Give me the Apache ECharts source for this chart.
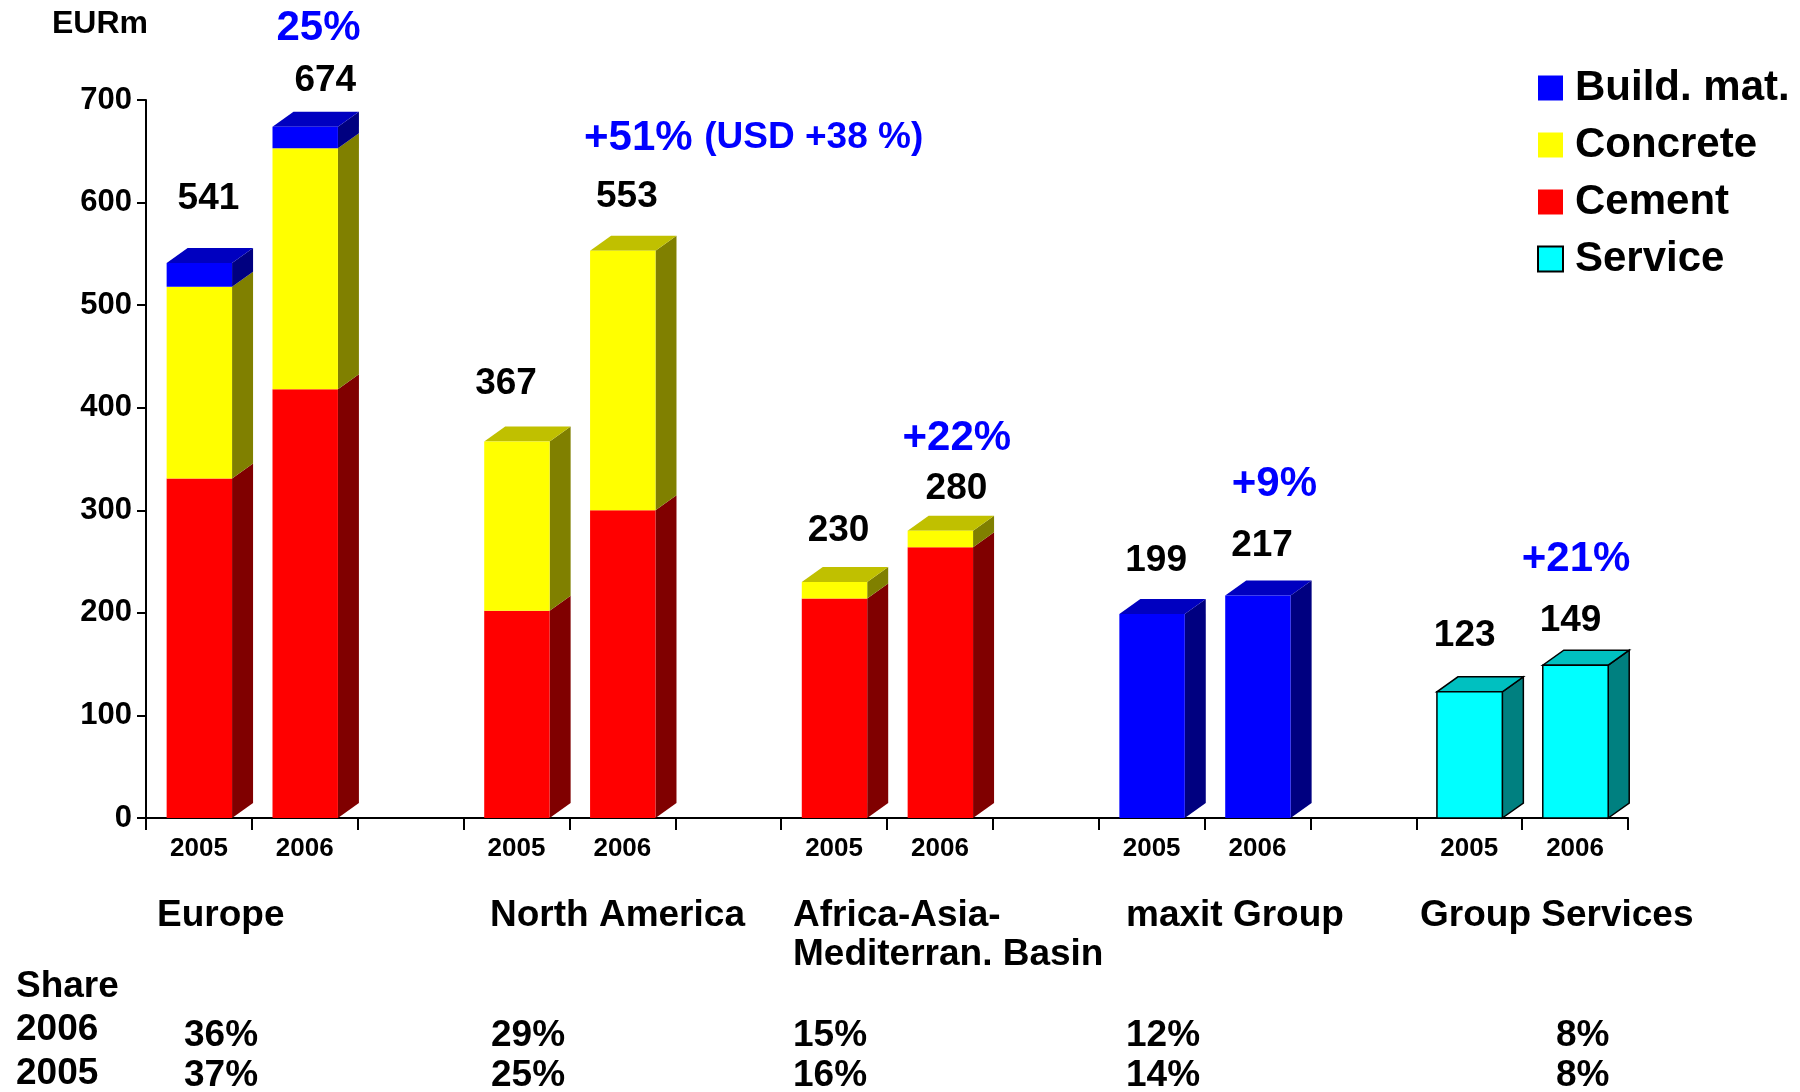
<!DOCTYPE html>
<html>
<head>
<meta charset="utf-8">
<script src="https://cdn.jsdelivr.net/npm/echarts@6/dist/echarts.min.js"></script>
<style>
  html, body { margin: 0; padding: 0; background: #fff; }
  #chart { width: 1800px; height: 1092px; }
</style>
</head>
<body>
<div id="chart"></div>
<script>
// categories on the x axis, empty ones are the gaps between regions
const years = ['2005', '2006', '', '2005', '2006', '', '2005', '2006', '', '2005', '2006', '', '2005', '2006'];

// EURm per segment
const cement   = [331, 418, 0, 202, 300, 0, 214, 264, 0, 0, 0, 0, 0, 0];
const concrete = [187, 235, 0, 165, 253, 0, 16, 16, 0, 0, 0, 0, 0, 0];
const buildMat = [23, 21, 0, 0, 0, 0, 0, 0, 0, 199, 217, 0, 0, 0];
const service  = [0, 0, 0, 0, 0, 0, 0, 0, 0, 0, 0, 0, 123, 149];
const totals   = [541, 674, null, 367, 553, null, 230, 280, null, 199, 217, null, 123, 149];

const regions   = ['Europe', 'North America', 'Africa-Asia-\nMediterran. Basin', 'maxit Group', 'Group Services'];
const share2006 = ['36%', '29%', '15%', '12%', '8%'];
const share2005 = ['37%', '25%', '16%', '14%', '8%'];
const growth    = ['25%', '+51% {s|(USD +38 %)}', '+22%', '+9%', '+21%'];

// layout (not data): where the notes sit
const growthAnchor = [[1.13, 770], [5.24, 663], [7.16, 370], [10.16, 325], [13.01, 252]];
const labelNudge = [[-1, -9], [10, 9], null, [-21, -3], [-6, 1], null, [-6, 4], [6, 13], null,
                    [-6, 2], [-6, 5], null, [-15, -1], [-15, 11]];
const regionX = [157, 490, 793, 1126, 1420];
const shareX  = [184, 491, 793, 1126, 1556];

const FONT = '"Liberation Sans", Arial, sans-serif';
const DX = 21, DY = 15;

const segments = [
  { name: 'Cement',      values: cement,   front: '#ff0000', side: '#800000', top: '#c00000' },
  { name: 'Concrete',    values: concrete, front: '#ffff00', side: '#808000', top: '#c0c000' },
  { name: 'Build. mat.', values: buildMat, front: '#0000ff', side: '#000080', top: '#0000c0' },
  { name: 'Service',     values: service,  front: '#00ffff', side: '#008080', top: '#00c0c0', outline: true }
];

// stack the segments: [index, low, high, isTop]
function stackData(k) {
  return years.map((y, i) => {
    let lo = 0;
    for (let j = 0; j < k; j++) lo += segments[j].values[i];
    const hi = lo + segments[k].values[i];
    let above = 0;
    for (let j = k + 1; j < segments.length; j++) above += segments[j].values[i];
    return [i, lo, hi, above === 0 ? 1 : 0];
  });
}

function bar3d(seg) {
  return function (params, api) {
    const i = api.value(0), lo = api.value(1), hi = api.value(2), isTop = api.value(3);
    if (hi <= lo) return;
    const band = api.size([1, 0])[0];
    const c = api.coord([i, lo]);
    const top = api.coord([i, hi])[1];
    const x0 = c[0] - band / 2 + band * 0.195;
    const x1 = x0 + band * 0.618;
    const y0 = c[1];
    const line = seg.outline ? { stroke: '#000', lineWidth: 1.5 } : {};
    const kids = [
      { type: 'polygon', shape: { points: [[x1, y0], [x1 + DX, y0 - DY], [x1 + DX, top - DY], [x1, top]] },
        style: Object.assign({ fill: seg.side }, line) }
    ];
    if (isTop) {
      kids.push({ type: 'polygon', shape: { points: [[x0, top], [x1, top], [x1 + DX, top - DY], [x0 + DX, top - DY]] },
        style: Object.assign({ fill: seg.top }, line) });
    }
    kids.push({ type: 'rect', shape: { x: x0, y: top, width: x1 - x0, height: y0 - top },
      style: Object.assign({ fill: seg.front }, line) });
    return { type: 'group', children: kids };
  };
}

const series = segments.map((seg, k) => ({
  type: 'custom',
  name: seg.name,
  z: 2 + k,
  clip: false,
  itemStyle: seg.outline ? { color: seg.front, borderColor: '#000', borderWidth: 1.5 } : { color: seg.front, borderWidth: 0 },
  renderItem: bar3d(seg),
  encode: { x: 0, y: [1, 2] },
  data: stackData(k)
}));

// total labels above each bar
series.push({
  type: 'custom',
  name: 'totals',
  z: 10,
  clip: false,
  silent: true,
  renderItem: function (params, api) {
    const i = api.value(0), v = api.value(1);
    const p = api.coord([i, v]);
    const n = labelNudge[i] || [0, 0];
    return {
      type: 'text',
      style: { x: p[0] + DX / 2 + n[0], y: p[1] - DY - 40 + n[1], text: String(v), fill: '#000',
        font: 'bold 37px ' + FONT, align: 'center', verticalAlign: 'middle' }
    };
  },
  data: totals.map((t, i) => [i, t]).filter(d => d[1] != null)
});

// growth notes
series.push({
  type: 'custom',
  name: 'growth',
  z: 10,
  clip: false,
  silent: true,
  renderItem: function (params, api) {
    const idx = api.value(0), v = api.value(1);
    const band = api.size([1, 0])[0];
    const base = Math.floor(idx);
    const x = api.coord([base, v])[0] + (idx - base) * band;
    const y = api.coord([base, v])[1];
    return {
      type: 'text',
      style: { x: x, y: y, text: growth[params.dataIndex], fill: '#0000ff',
        font: 'bold 42px ' + FONT, align: 'center', verticalAlign: 'middle',
        rich: { s: { fontSize: 37, fontWeight: 'bold', fontFamily: FONT, fill: '#0000ff' } } }
    };
  },
  data: growthAnchor
});

const graphic = [
  { type: 'text', left: 52, top: 8, style: { text: 'EURm', font: 'bold 32px ' + FONT, fill: '#000' } }
];
const textStyle = (x, y, t) => ({
  type: 'text', x: x, y: y,
  style: { text: t, font: 'bold 37px ' + FONT, fill: '#000', verticalAlign: 'middle', lineHeight: 39 }
});
regions.forEach((r, k) => {
  const parts = r.split('\n');
  parts.forEach((p, j) => graphic.push(textStyle(regionX[k], 916 + j * 39, p)));
});
graphic.push(textStyle(16, 987, 'Share'));
graphic.push(textStyle(16, 1030, '2006'));
graphic.push(textStyle(16, 1074, '2005'));
share2006.forEach((s, k) => graphic.push(textStyle(shareX[k], 1036, s)));
share2005.forEach((s, k) => graphic.push(textStyle(shareX[k], 1076, s)));

const chart = echarts.init(document.getElementById('chart'));
chart.setOption({
  animation: false,
  backgroundColor: '#fff',
  textStyle: { fontFamily: FONT },
  grid: { left: 146, right: 172, top: 100, bottom: 274, containLabel: false },
  legend: {
    data: ['Build. mat.', 'Concrete', 'Cement', 'Service'],
    orient: 'vertical',
    left: 1532,
    top: 62,
    icon: 'rect',
    itemWidth: 25,
    itemHeight: 25,
    itemGap: 15,
    selectedMode: false,
    textStyle: { fontSize: 42, fontWeight: 'bold', color: '#000', lineHeight: 42, padding: [0, 0, 0, 7] }
  },
  xAxis: {
    type: 'category',
    data: years,
    boundaryGap: true,
    axisLine: { lineStyle: { color: '#000', width: 2 } },
    axisTick: { show: true, interval: 0, length: 12, lineStyle: { color: '#000', width: 2 } },
    axisLabel: { interval: 0, fontSize: 26, fontWeight: 'bold', color: '#000', margin: 18 },
    splitLine: { show: false }
  },
  yAxis: {
    type: 'value',
    min: 0,
    max: 700,
    interval: 100,
    axisLine: { show: true, lineStyle: { color: '#000', width: 2 } },
    axisTick: { show: true, length: 9, lineStyle: { color: '#000', width: 2 } },
    axisLabel: { fontSize: 31, fontWeight: 'bold', color: '#000', margin: 14 },
    splitLine: { show: false }
  },
  graphic: graphic,
  series: series
});
</script>
</body>
</html>
